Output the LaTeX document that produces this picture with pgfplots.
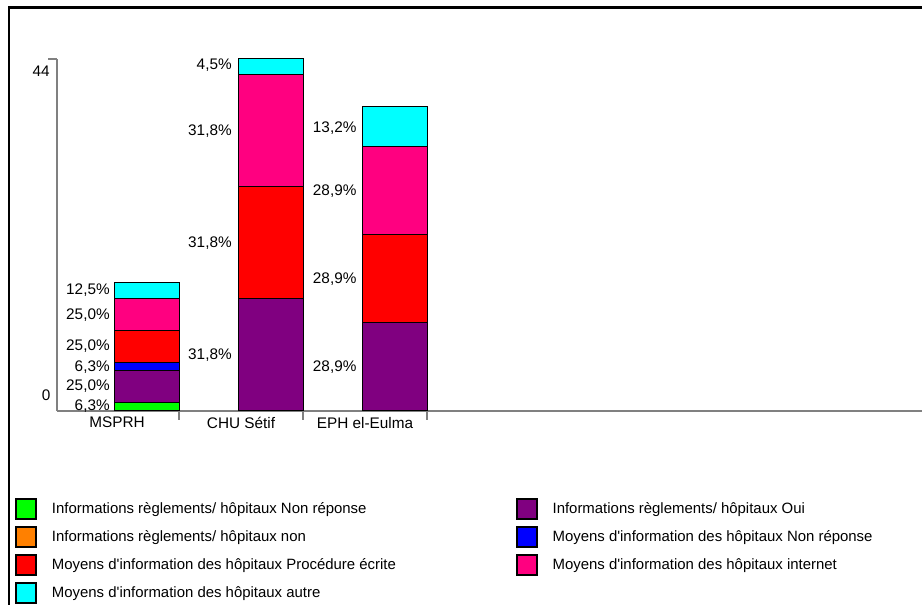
\documentclass[border=0pt]{standalone}
\usepackage{pgfplots}
\pgfplotsset{compat=1.18}
\usepackage{fontspec}
\setmainfont[Ligatures=TeXOff]{Liberation Sans}
\definecolor{cgreen}{HTML}{00FF00}
\definecolor{corange}{HTML}{FF8000}
\definecolor{cpurple}{HTML}{800080}
\definecolor{cblue}{HTML}{0000FF}
\definecolor{cred}{HTML}{FF0000}
\definecolor{cpink}{HTML}{FF0080}
\definecolor{ccyan}{HTML}{00FFFF}
\definecolor{axgray}{HTML}{808080}
\tikzset{lbl/.style={anchor=east, inner sep=0pt, font=\fontsize{11.5}{13}\selectfont}}
\begin{document}
\begin{tikzpicture}
\useasboundingbox (0pt,0pt) rectangle (691.5pt,453.75pt);
\draw[line width=1.6pt] (6.5pt,-5pt) -- (6.5pt,448.1pt) -- (700pt,448.1pt);
\begin{axis}[
  at={(42.75pt,145.5pt)}, anchor=south west,
  scale only axis, width=648.75pt, height=264pt,
  xmin=-0.484, xmax=6.492, ymin=0, ymax=44,
  clip=false,
  ybar stacked, bar width=48.75pt,
  axis lines*=left,
  axis line style={-, draw=axgray, line width=1.2pt},
  xtick={0,1,2}, xticklabels={MSPRH, CHU Sétif, EPH el-Eulma},
  minor xtick={0.5,1.5,2.5},
  ytick={0,44}, yticklabels={,},
  minor ytick={44},
  tick style={draw=axgray, line width=1.2pt},
  major tick length=0pt, minor tick length=6.75pt,
  tick align=outside,
  tick label style={font=\fontsize{11.5}{13}\selectfont},
  x tick label style={yshift=-1pt},
]
\addplot[fill=cgreen, draw=black, line width=0.75pt] coordinates {(0.24,1) (1.24,0) (2.24,0)};
\addplot[fill=corange, draw=black, line width=0.75pt] coordinates {(0.24,0) (1.24,0) (2.24,0)};
\addplot[fill=cpurple, draw=black, line width=0.75pt] coordinates {(0.24,4) (1.24,14) (2.24,11)};
\addplot[fill=cblue, draw=black, line width=0.75pt] coordinates {(0.24,1) (1.24,0) (2.24,0)};
\addplot[fill=cred, draw=black, line width=0.75pt] coordinates {(0.24,4) (1.24,14) (2.24,11)};
\addplot[fill=cpink, draw=black, line width=0.75pt] coordinates {(0.24,4) (1.24,14) (2.24,11)};
\addplot[fill=ccyan, draw=black, line width=0.75pt] coordinates {(0.24,2) (1.24,2) (2.24,5)};
\node[lbl] at (axis cs:-0.541,42.5) {44};
\node[lbl] at (axis cs:-0.536,2.0) {0};
\node[lbl] at (axis cs:-0.057,0.62) {6,3\%};
\node[lbl] at (axis cs:-0.057,3.12) {25,0\%};
\node[lbl] at (axis cs:-0.057,5.5) {6,3\%};
\node[lbl] at (axis cs:-0.057,8.06) {25,0\%};
\node[lbl] at (axis cs:-0.057,12.04) {25,0\%};
\node[lbl] at (axis cs:-0.057,15.06) {12,5\%};
\node[lbl] at (axis cs:0.927,7) {31,8\%};
\node[lbl] at (axis cs:0.927,21) {31,8\%};
\node[lbl] at (axis cs:0.927,35) {31,8\%};
\node[lbl] at (axis cs:0.927,43.2) {4,5\%};
\node[lbl] at (axis cs:1.933,5.5) {28,9\%};
\node[lbl] at (axis cs:1.933,16.5) {28,9\%};
\node[lbl] at (axis cs:1.933,27.5) {28,9\%};
\node[lbl] at (axis cs:1.933,35.4) {13,2\%};
\end{axis}
\begin{axis}[
  at={(11.25pt,80.5pt)}, anchor=north west,
  scale only axis, width=10pt, height=10pt,
  xmin=0, xmax=1, ymin=0, ymax=1, hide axis,
  legend style={at={(0,1)}, anchor=north west, draw=none, fill=none, inner sep=0pt,
    font=\fontsize{11.2}{13}\selectfont, row sep=4.5pt,
    /tikz/every odd column/.append style={column sep=9pt},
    /tikz/every even column/.append style={column sep=88pt}},
  legend cell align=left,
  legend columns=2,
  legend image code/.code={\draw[#1,draw=black,line width=1.5pt] (0pt,-7.5pt) rectangle (15pt,7.5pt);},
]
\addlegendimage{fill=cgreen}
\addlegendentry{Informations règlements/ hôpitaux Non réponse}
\addlegendimage{fill=cpurple}
\addlegendentry{Informations règlements/ hôpitaux Oui}
\addlegendimage{fill=corange}
\addlegendentry{Informations règlements/ hôpitaux non}
\addlegendimage{fill=cblue}
\addlegendentry{Moyens d'information des hôpitaux Non réponse}
\addlegendimage{fill=cred}
\addlegendentry{Moyens d'information des hôpitaux Procédure écrite}
\addlegendimage{fill=cpink}
\addlegendentry{Moyens d'information des hôpitaux internet}
\addlegendimage{fill=ccyan}
\addlegendentry{Moyens d'information des hôpitaux autre}
\end{axis}
\end{tikzpicture}
\end{document}
